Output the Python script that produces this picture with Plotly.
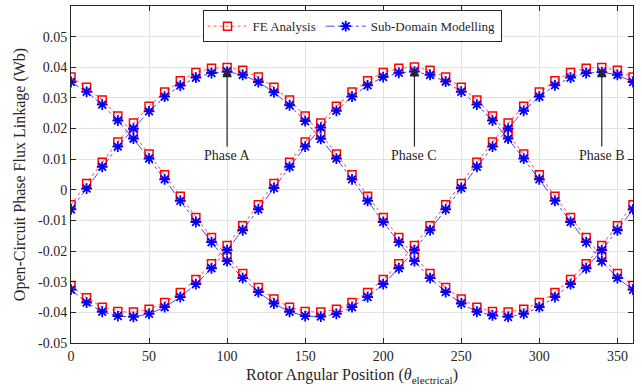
import plotly.graph_objects as go

# Rotor position in electrical degrees
theta = list(range(0, 361, 10))

# Finite-element results (Wb)
fe_a = [-0.0049, 0.0021, 0.0090, 0.0156, 0.0218, 0.0273, 0.0319, 0.0356, 0.0383, 0.0397,
        0.0399, 0.0390, 0.0368, 0.0335, 0.0293, 0.0241, 0.0182, 0.0117, 0.0049, -0.0021,
        -0.0090, -0.0156, -0.0218, -0.0273, -0.0319, -0.0356, -0.0383, -0.0397, -0.0399, -0.0390,
        -0.0368, -0.0335, -0.0293, -0.0241, -0.0182, -0.0117, -0.0049]
fe_b = [0.0368, 0.0335, 0.0293, 0.0241, 0.0182, 0.0117, 0.0049, -0.0021, -0.0090, -0.0156,
        -0.0218, -0.0273, -0.0319, -0.0356, -0.0383, -0.0397, -0.0399, -0.0390, -0.0368, -0.0335,
        -0.0293, -0.0241, -0.0182, -0.0117, -0.0049, 0.0021, 0.0090, 0.0156, 0.0218, 0.0273,
        0.0319, 0.0356, 0.0383, 0.0397, 0.0399, 0.0390, 0.0368]
fe_c = [-0.0312, -0.0352, -0.0383, -0.0397, -0.0399, -0.0390, -0.0368, -0.0335, -0.0293, -0.0241,
        -0.0182, -0.0117, -0.0049, 0.0021, 0.0090, 0.0156, 0.0218, 0.0273, 0.0319, 0.0356,
        0.0383, 0.0397, 0.0401, 0.0390, 0.0368, 0.0335, 0.0293, 0.0241, 0.0182, 0.0117,
        0.0049, -0.0021, -0.0090, -0.0156, -0.0218, -0.0273, -0.0312]

# Sub-domain analytical results (Wb)
sd_a = [-0.0064, 0.0004, 0.0075, 0.0141, 0.0200, 0.0256, 0.0304, 0.0340, 0.0366, 0.0381,
        0.0386, 0.0375, 0.0352, 0.0318, 0.0276, 0.0224, 0.0166, 0.0102, 0.0034, -0.0036,
        -0.0105, -0.0171, -0.0233, -0.0288, -0.0334, -0.0371, -0.0398, -0.0410, -0.0415, -0.0405,
        -0.0383, -0.0350, -0.0308, -0.0256, -0.0197, -0.0132, -0.0064]
sd_b = [0.0352, 0.0320, 0.0278, 0.0226, 0.0167, 0.0102, 0.0034, -0.0036, -0.0105, -0.0171,
        -0.0233, -0.0288, -0.0334, -0.0371, -0.0398, -0.0412, -0.0414, -0.0405, -0.0383, -0.0350,
        -0.0308, -0.0256, -0.0197, -0.0132, -0.0064, 0.0006, 0.0075, 0.0141, 0.0200, 0.0258,
        0.0304, 0.0341, 0.0366, 0.0381, 0.0384, 0.0375, 0.0352]
sd_c = [-0.0326, -0.0368, -0.0398, -0.0412, -0.0415, -0.0405, -0.0383, -0.0350, -0.0308, -0.0256,
        -0.0197, -0.0132, -0.0064, 0.0006, 0.0075, 0.0141, 0.0203, 0.0258, 0.0304, 0.0341,
        0.0368, 0.0382, 0.0386, 0.0375, 0.0353, 0.0320, 0.0278, 0.0226, 0.0167, 0.0102,
        0.0034, -0.0036, -0.0105, -0.0171, -0.0233, -0.0288, -0.0326]

# Phase labels and the angle of each phase peak
phase_names = ["Phase A", "Phase C", "Phase B"]
phase_peaks = [100, 220, 340]
peak_values = [0.0399, 0.0401, 0.0399]

x_ticks = [0, 50, 100, 150, 200, 250, 300, 350]
y_ticks = [-0.05, -0.04, -0.03, -0.02, -0.01, 0, 0.01, 0.02, 0.03, 0.04, 0.05]
y_tick_text = ["-0.05", "-0.04", "-0.03", "-0.02", "-0.01", "0",
               "0.01", "0.02", "0.03", "0.04", "0.05"]

FONT = "Liberation Serif, Times New Roman, serif"
RED = "#ff0000"
BLUE = "#0000ff"

fig = go.Figure()

fe_sets = [fe_a, fe_b, fe_c]
sd_sets = [sd_a, sd_b, sd_c]

for i, ys in enumerate(fe_sets):
    fig.add_trace(go.Scatter(
        x=theta, y=ys, mode="lines+markers",
        name="FE Analysis", legendgroup="fe", showlegend=(i == 0),
        line=dict(color="rgba(255,80,80,0.75)", width=1.2, dash="dot"),
        marker=dict(symbol="square-open", size=8, color=RED, line=dict(width=1.5, color=RED)),
    ))

for i, ys in enumerate(sd_sets):
    fig.add_trace(go.Scatter(
        x=theta, y=ys, mode="lines+markers",
        name="Sub-Domain Modelling", legendgroup="sd", showlegend=(i == 0),
        line=dict(color="rgba(40,40,255,0.85)", width=1.0, dash="dashdot"),
        marker=dict(symbol="asterisk-open", size=9, color=BLUE, line=dict(width=1.8, color=BLUE)),
    ))

# Arrows marking each phase peak
for name, px, py in zip(phase_names, phase_peaks, peak_values):
    fig.add_annotation(
        x=px, y=py, ax=px, ay=0.0112, axref="x", ayref="y", xref="x", yref="y",
        text=name, showarrow=True, arrowhead=2, arrowsize=1.6, arrowwidth=1.2,
        arrowcolor="#262626", font=dict(family=FONT, size=14, color="#262626"),
        standoff=0,
    )

axis_common = dict(
    showline=True, linecolor="#262626", linewidth=1, mirror="ticks",
    ticks="inside", ticklen=5, tickcolor="#262626",
    showgrid=True, gridcolor="#e3e3e3", gridwidth=1, zeroline=False,
    tickfont=dict(family=FONT, size=14, color="#262626"),
)

fig.update_xaxes(
    range=[0, 360], tickvals=x_ticks,
    title=dict(text="Rotor Angular Position (<i>θ</i><sub>electrical</sub>)",
               font=dict(family=FONT, size=16, color="#262626"), standoff=6),
    **axis_common,
)
fig.update_yaxes(
    range=[-0.05, 0.06], tickvals=y_ticks, ticktext=y_tick_text,
    title=dict(text="Open-Circuit Phase Flux Linkage (Wb)",
               font=dict(family=FONT, size=16, color="#262626"), standoff=8),
    **axis_common,
)

fig.update_layout(
    width=642, height=392,
    margin=dict(l=71, r=9, t=6, b=49),
    plot_bgcolor="white", paper_bgcolor="white",
    font=dict(family=FONT, color="#262626"),
    legend=dict(
        orientation="h", x=0.5, xanchor="center", y=0.94, yanchor="middle",
        bgcolor="white", bordercolor="#262626", borderwidth=1,
        font=dict(family=FONT, size=13, color="#262626"),
        itemwidth=40, tracegroupgap=0,
    ),
)

fig.write_html("out.html")
